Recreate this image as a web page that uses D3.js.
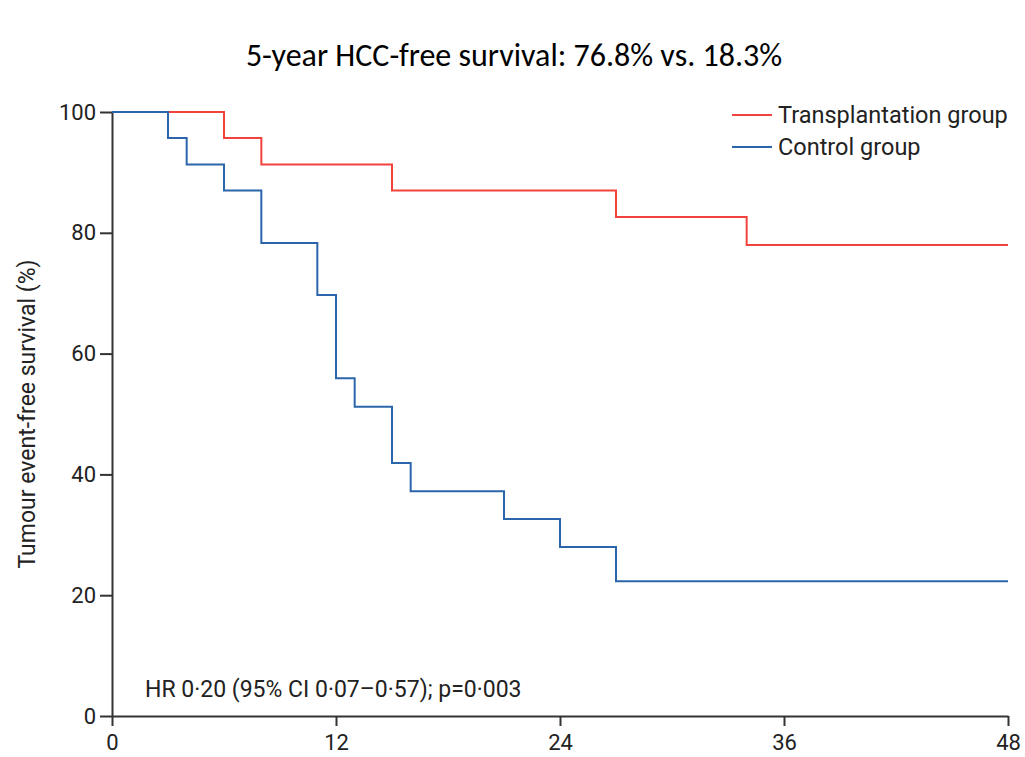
<!DOCTYPE html>
<html>
<head>
<meta charset="utf-8">
<script src="https://cdn.jsdelivr.net/npm/d3@7"></script>
<style>
  body { margin: 0; background: #fff; }
  .axis path, .axis line { stroke: #333; stroke-width: 2px; }
  .axis text { font-family: "Roboto", sans-serif; font-size: 22px; fill: #222; }
</style>
</head>
<body>
<div id="visual" style="width:1025px;height:757px"></div>
<script>
// Kaplan-Meier steps, months vs survival %
var transplantTimes = [0, 6, 8, 15, 27, 34, 48];
var transplantSurv = [100, 95.7, 91.3, 87.0, 82.6, 78.0, 78.0];

var controlTimes = [0, 3, 4, 6, 8, 11, 12, 13, 15, 16, 21, 24, 27, 48];
var controlSurv = [100, 95.7, 91.3, 87.0, 78.3, 69.7, 55.9, 51.2, 41.9, 37.2, 32.6, 28.0, 22.3, 22.3];

var xTicks = [0, 12, 24, 36, 48];
var yTicks = [0, 20, 40, 60, 80, 100];

var seriesNames = ['Transplantation group', 'Control group'];
var seriesColours = ['#f2423c', '#2b65aa'];

var width = 1025, height = 757;
var margin = { top: 112, bottom: 41, left: 112, right: 17 };

var svg = d3.select('#visual')
    .append('svg')
    .attr('width', width)
    .attr('height', height);

var x_scale = d3.scaleLinear()
    .domain([0, 48])
    .range([margin.left, width - margin.right]);

var y_scale = d3.scaleLinear()
    .domain([0, 100])
    .range([height - margin.bottom, margin.top]);

svg.append('text')
    .attr('x', 514)
    .attr('y', 66)
    .attr('text-anchor', 'middle')
    .attr('font-family', 'Carlito, "Open Sans", sans-serif')
    .attr('font-size', '32px')
    .attr('fill', '#000')
    .text('5-year HCC-free survival: 76.8% vs. 18.3%');

svg.append('g')
    .attr('class', 'x axis')
    .attr('transform', 'translate(0,' + y_scale(0) + ')')
    .call(d3.axisBottom(x_scale).tickValues(xTicks).tickSize(10).tickPadding(8).tickSizeOuter(0));

svg.append('g')
    .attr('class', 'y axis')
    .attr('transform', 'translate(' + x_scale(0) + ',0)')
    .call(d3.axisLeft(y_scale).tickValues(yTicks).tickSize(12).tickPadding(4).tickSizeOuter(0));

svg.append('text')
    .attr('transform', 'translate(35,' + y_scale(50) + ') rotate(-90)')
    .attr('text-anchor', 'middle')
    .attr('font-family', '"Roboto", sans-serif')
    .attr('font-size', '23px')
    .attr('fill', '#222')
    .text('Tumour event-free survival (%)');

var line = d3.line()
    .x(function (d) { return x_scale(d[0]); })
    .y(function (d) { return y_scale(d[1]); })
    .curve(d3.curveStepAfter);

var series = [d3.zip(transplantTimes, transplantSurv), d3.zip(controlTimes, controlSurv)];

svg.selectAll('path.km')
    .data(series)
    .enter().append('path')
    .attr('class', 'km')
    .attr('fill', 'none')
    .attr('stroke', function (d, i) { return seriesColours[i]; })
    .attr('stroke-width', 2)
    .attr('d', line);

var legend = svg.selectAll('g.legend')
    .data(seriesNames)
    .enter().append('g')
    .attr('class', 'legend')
    .attr('transform', function (d, i) { return 'translate(732,' + (115 + i * 32) + ')'; });

legend.append('line')
    .attr('x1', 0).attr('x2', 40)
    .attr('stroke', function (d, i) { return seriesColours[i]; })
    .attr('stroke-width', 2);

legend.append('text')
    .attr('x', 46)
    .attr('dy', '0.35em')
    .attr('font-family', '"Roboto", sans-serif')
    .attr('font-size', '23.5px')
    .attr('fill', '#222')
    .text(function (d) { return d; });

svg.append('text')
    .attr('x', 145)
    .attr('y', 697)
    .attr('font-family', '"Roboto", sans-serif')
    .attr('font-size', '23px')
    .attr('fill', '#222')
    .text('HR 0\u00b720 (95% CI 0\u00b707\u20130\u00b757); p=0\u00b7003');
</script>
</body>
</html>
